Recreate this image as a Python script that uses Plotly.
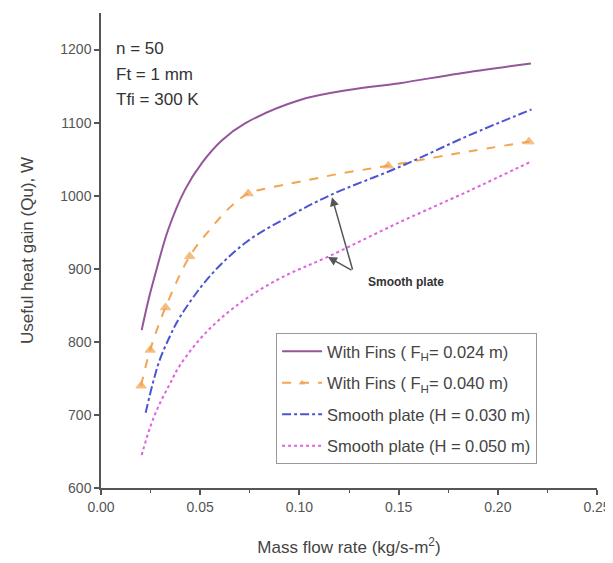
import plotly.graph_objects as go

# Data
fin024_x = [0.0205, 0.0238, 0.0272, 0.0338, 0.0423, 0.0509, 0.0610, 0.0726, 0.1003, 0.1255, 0.1507, 0.1800, 0.2167]
fin024_y = [816, 856, 891, 953, 1008, 1045, 1076, 1099, 1131, 1145, 1154, 1167, 1181]

# curve points of the F_H = 0.040 m series (marker shown where fin040_mark is 1)
fin040_x = [0.0202, 0.0248, 0.0325, 0.0447, 0.0550, 0.0650, 0.0742, 0.0850, 0.1000, 0.1200, 0.1448, 0.1800, 0.2157]
fin040_y = [740, 789, 847, 917, 954, 984, 1003, 1011, 1019, 1030, 1041, 1058, 1074]
fin040_mark = [1, 1, 1, 1, 0, 0, 1, 0, 0, 0, 1, 0, 1]

sp030_x = [0.0225, 0.0260, 0.0297, 0.0348, 0.0398, 0.0549, 0.0735, 0.0937, 0.1150, 0.1510, 0.1850, 0.2170]
sp030_y = [703, 742, 776, 808, 834, 890, 937, 970, 1000, 1040, 1082, 1118]

sp050_x = [0.0205, 0.0250, 0.0297, 0.0348, 0.0398, 0.0530, 0.0700, 0.0903, 0.1140, 0.1500, 0.1850, 0.2170]
sp050_y = [645, 685, 716, 743, 768, 813, 853, 887, 916, 963, 1006, 1047]

names = [
    "With Fins ( F<sub>H</sub>= 0.024 m)",
    "With Fins ( F<sub>H</sub>= 0.040 m)",
    "Smooth plate (H = 0.030 m)",
    "Smooth plate (H = 0.050 m)",
]

x_ticks = [0.00, 0.05, 0.10, 0.15, 0.20, 0.25]
y_ticks = [600, 700, 800, 900, 1000, 1100, 1200]

FONT = "Arial, Liberation Sans, sans-serif"

fig = go.Figure()
fig.add_trace(go.Scatter(x=fin024_x, y=fin024_y, mode="lines", name=names[0],
                         line=dict(color="#95559b", width=2, shape="spline"), legendgroup="a"))
fig.add_trace(go.Scatter(x=fin040_x, y=fin040_y, mode="lines+markers", name=names[1],
                         line=dict(color="#f2a550", width=2, dash="dash", shape="spline"),
                         marker=dict(symbol="triangle-up", size=[9 * m for m in fin040_mark],
                                     color="#f0a04a"),
                         legendgroup="b"))
fig.add_trace(go.Scatter(x=sp030_x, y=sp030_y, mode="lines", name=names[2],
                         line=dict(color="#4b55d2", width=2, dash="dashdot", shape="spline"), legendgroup="c"))
fig.add_trace(go.Scatter(x=sp050_x, y=sp050_y, mode="lines", name=names[3],
                         line=dict(color="#e060e0", width=2, dash="dot", shape="spline"), legendgroup="d"))

axis_common = dict(showline=True, linecolor="#555", linewidth=1.5, ticks="outside",
                   tickcolor="#555", tickwidth=1.5, ticklen=5, showgrid=False, zeroline=False,
                   tickfont=dict(family=FONT, size=14, color="#555"),
                   title_font=dict(family=FONT, size=17, color="#444"))

fig.update_xaxes(range=[0, 0.25], tickvals=x_ticks, ticktext=[f"{v:.2f}" for v in x_ticks],
                 title_text="Mass flow rate (kg/s-m<sup>2</sup>)", title_standoff=28,
                 minor=dict(dtick=0.025, ticks="outside", ticklen=3, tickcolor="#555", tickwidth=1.2, tick0=0),
                 **axis_common)
fig.update_yaxes(range=[600, 1250], tickvals=y_ticks,
                 title_text="Useful heat gain (Qu), W", title_standoff=22, **axis_common)

txt_font = dict(family=FONT, size=17, color="#333")
for label, yp in [("n = 50", 0.926), ("Ft = 1 mm", 0.871), ("Tfi = 300 K", 0.818)]:
    fig.add_annotation(text=label, xref="paper", yref="paper", x=0.026, y=yp,
                       xanchor="left", yanchor="middle", showarrow=False, font=txt_font)

fig.add_annotation(text="<b>Smooth plate</b>", x=0.1537, y=882, xref="x", yref="y",
                   showarrow=False, font=dict(family=FONT, size=12, color="#333"))
for hx, hy in [(0.1164, 998), (0.1144, 916)]:
    fig.add_annotation(text="", x=hx, y=hy, ax=0.127, ay=897, xref="x", yref="y",
                       axref="x", ayref="y", showarrow=True, arrowhead=2, arrowsize=1.2,
                       arrowwidth=1.5, arrowcolor="#555")

fig.update_layout(
    width=613, height=563,
    margin=dict(l=93, r=24, t=5, b=83),
    plot_bgcolor="white", paper_bgcolor="white",
    legend=dict(x=0.353, y=0.326, xanchor="left", yanchor="top",
                bordercolor="#999", borderwidth=1, bgcolor="white",
                font=dict(family=FONT, size=16.5, color="#444"),
                tracegroupgap=7, itemwidth=40),
    showlegend=True,
)

fig.write_html("out.html")
